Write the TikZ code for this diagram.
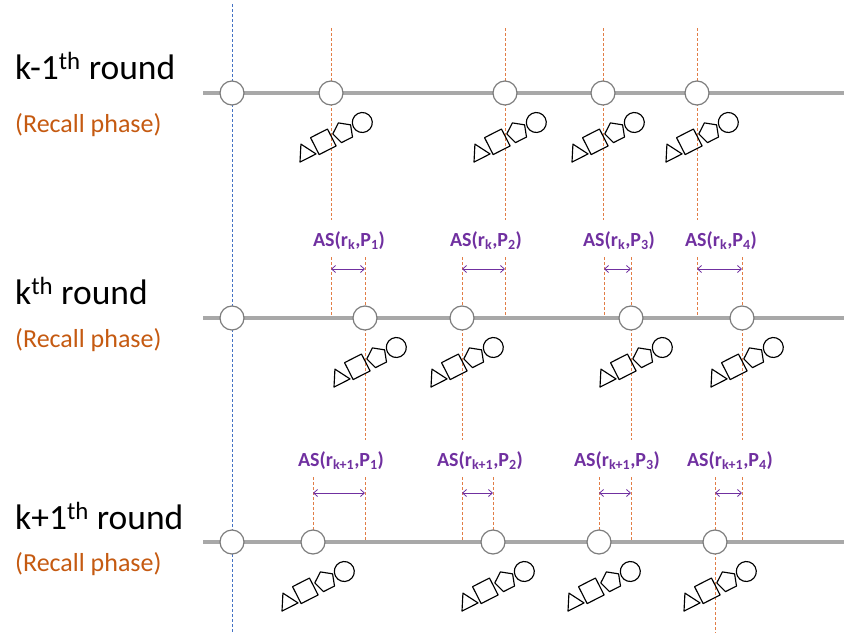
\documentclass[tikz,border=0pt]{standalone}
\usepackage{fontspec}
\setmainfont{Carlito}
\usetikzlibrary{shapes.geometric,arrows.meta}
\definecolor{lgray}{RGB}{168,168,168}
\definecolor{cgray}{RGB}{125,125,125}
\definecolor{dblue}{RGB}{68,114,196}
\definecolor{dorange}{RGB}{226,125,70}
\definecolor{rorange}{RGB}{197,90,17}
\definecolor{aspurple}{RGB}{112,48,160}
\begin{document}
\begin{tikzpicture}[x=1pt,y=-1pt,
  rowline/.style={line width=3.5pt, draw=lgray},
  pt/.style={circle, draw=cgray, fill=white, line width=1.2pt, minimum size=24pt, inner sep=0pt},
  bdash/.style={draw=dblue, line width=0.7pt, dash pattern=on 3pt off 2pt},
  odash/.style={draw=dorange, line width=0.8pt, dash pattern=on 3pt off 2pt},
  asarrow/.style={draw=aspurple, line width=0.8pt, {Straight Barb[length=4pt,width=7pt]}-{Straight Barb[length=4pt,width=7pt]}},
  aslbl/.style={text=aspurple, font=\fontsize{20}{22}\selectfont\bfseries, inner sep=0pt, anchor=base},
  rowlbl/.style={font=\fontsize{35.5}{40}\selectfont, inner sep=0pt, anchor=base west},
  recall/.style={text=rorange, font=\fontsize{26}{30}\selectfont, inner sep=0pt, anchor=base west},
  shp/.style={draw=black, line width=1.15pt, line join=round},
  grp/.pic={
    \begin{scope}[rotate=27]
      \draw[shp] (-59,47.5) -- (-41,47.5) -- (-50,31.9) -- cycle;
      \draw[shp] (-38.5,30.5) rectangle (-19.5,49.5);
      \draw[shp] (-7,30) -- (2.99,37.26) -- (-0.83,48.99) -- (-13.17,48.99) -- (-16.99,37.26) -- cycle;
      \draw[shp] (14.5,40.5) circle [radius=10pt];
    \end{scope}
  }]
\useasboundingbox (0,0) rectangle (844,637);

% ---- blue vertical guide
\coordinate (bT) at (232,4);
\coordinate (bB) at (232,633);
\draw[bdash] (bT) -- (bB);

% ---- orange guides, row 1
\foreach \x [count=\i] in {331,505,603,697}{
  \coordinate (o1t\i) at (\x,28);
  \coordinate (o1b\i) at (\x,220);
  \draw[odash] (o1t\i) -- (o1b\i);
}
% ---- orange guides, row 2 (above and below)
\foreach \x [count=\i] in {331,365,462,505,604,631,697,742}{
  \coordinate (o2t\i) at (\x,257);
  \coordinate (o2b\i) at (\x,318);
  \draw[odash] (o2t\i) -- (o2b\i);
}
\foreach \x [count=\i] in {365,462,631,742}{
  \coordinate (o2u\i) at (\x,318);
  \coordinate (o2d\i) at (\x,440);
  \draw[odash] (o2u\i) -- (o2d\i);
}
% ---- orange guides, row 3
\foreach \x [count=\i] in {313,365,462,493,599,631,715,742}{
  \coordinate (o3t\i) at (\x,477);
  \coordinate (o3b\i) at (\x,542);
  \draw[odash] (o3t\i) -- (o3b\i);
}
\coordinate (o3u) at (715,542);
\coordinate (o3d) at (715,633);
\draw[odash] (o3u) -- (o3d);

% ---- row lines
\coordinate (L1s) at (203,93);  \coordinate (L1e) at (844,93);
\coordinate (L2s) at (203,318); \coordinate (L2e) at (844,318);
\coordinate (L3s) at (203,542); \coordinate (L3e) at (844,542);
\draw[rowline] (L1s) -- (L1e);
\draw[rowline] (L2s) -- (L2e);
\draw[rowline] (L3s) -- (L3e);

% ---- circles
\node[pt] (a0) at (232,93) {};
\node[pt] (a1) at (331,93) {};
\node[pt] (a2) at (505,93) {};
\node[pt] (a3) at (603,93) {};
\node[pt] (a4) at (697,93) {};

\node[pt] (b0) at (232,318) {};
\node[pt] (b1) at (365,318) {};
\node[pt] (b2) at (462,318) {};
\node[pt] (b3) at (631,318) {};
\node[pt] (b4) at (742,318) {};

\node[pt] (c0) at (232,542) {};
\node[pt] (c1) at (313,542) {};
\node[pt] (c2) at (493,542) {};
\node[pt] (c3) at (599,542) {};
\node[pt] (c4) at (715,542) {};

% ---- shape groups
\foreach \n in {a1,a2,a3,a4,b1,b2,b3,b4,c1,c2,c3,c4}{
  \pic (g\n) at (\n) {grp};
}

% ---- AS arrows, row 2
\coordinate (A21l) at (331,269); \coordinate (A21r) at (365,269);
\coordinate (A22l) at (462,269); \coordinate (A22r) at (505,269);
\coordinate (A23l) at (604,269); \coordinate (A23r) at (631,269);
\coordinate (A24l) at (697,269); \coordinate (A24r) at (742,269);
\draw[asarrow] (A21l) -- (A21r);
\draw[asarrow] (A22l) -- (A22r);
\draw[asarrow] (A23l) -- (A23r);
\draw[asarrow] (A24l) -- (A24r);
% ---- AS arrows, row 3
\coordinate (A31l) at (313,493); \coordinate (A31r) at (365,493);
\coordinate (A32l) at (462,493); \coordinate (A32r) at (493,493);
\coordinate (A33l) at (599,493); \coordinate (A33r) at (631,493);
\coordinate (A34l) at (715,493); \coordinate (A34r) at (742,493);
\draw[asarrow] (A31l) -- (A31r);
\draw[asarrow] (A32l) -- (A32r);
\draw[asarrow] (A33l) -- (A33r);
\draw[asarrow] (A34l) -- (A34r);

% ---- AS labels
\node[aslbl] (s21) at (349,246) {AS(r\textsubscript{k},P\textsubscript{1})};
\node[aslbl] (s22) at (486,246) {AS(r\textsubscript{k},P\textsubscript{2})};
\node[aslbl] (s23) at (619,246) {AS(r\textsubscript{k},P\textsubscript{3})};
\node[aslbl] (s24) at (721,246) {AS(r\textsubscript{k},P\textsubscript{4})};
\node[aslbl] (s31) at (341,466) {AS(r\textsubscript{k+1},P\textsubscript{1})};
\node[aslbl] (s32) at (480,466) {AS(r\textsubscript{k+1},P\textsubscript{2})};
\node[aslbl] (s33) at (617,466) {AS(r\textsubscript{k+1},P\textsubscript{3})};
\node[aslbl] (s34) at (730,466) {AS(r\textsubscript{k+1},P\textsubscript{4})};

% ---- row labels
\node[rowlbl] (r1) at (15,79) {k-1\textsuperscript{th} round};
\node[recall] (p1) at (15,132) {(Recall phase)};
\node[rowlbl] (r2) at (15,304) {k\textsuperscript{th} round};
\node[recall] (p2) at (15,347) {(Recall phase)};
\node[rowlbl] (r3) at (15,529) {k+1\textsuperscript{th} round};
\node[recall] (p3) at (15,571) {(Recall phase)};
\end{tikzpicture}
\end{document}
